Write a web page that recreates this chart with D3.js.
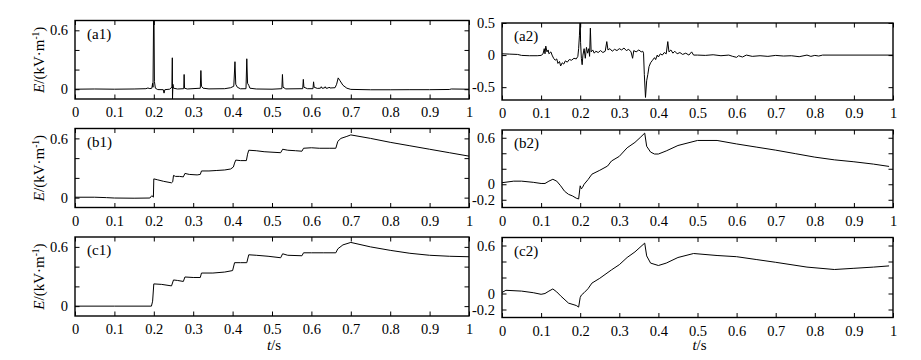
<!DOCTYPE html>
<html>
<head>
<meta charset="utf-8">
<script src="https://cdn.jsdelivr.net/npm/d3@7/dist/d3.min.js"></script>
<style>
  html, body { margin: 0; padding: 0; background: #fff; }
  svg { display: block; }
</style>
</head>
<body>
<svg id="chart" width="921" height="360"></svg>
<script>
// ---------- data (t in s, E in kV/m) ----------
const xTicks = [0, 0.1, 0.2, 0.3, 0.4, 0.5, 0.6, 0.7, 0.8, 0.9, 1];
const xTickLabels = ["0", "0.1", "0.2", "0.3", "0.4", "0.5", "0.6", "0.7", "0.8", "0.9", "1"];
const panelLabels = ["(a1)", "(a2)", "(b1)", "(b2)", "(c1)", "(c2)"];
const yTicksLeft = [0, 0.2, 0.4, 0.6];
const yLabelsLeft = [0, 0.6];
const yTicksA2 = [-0.5, 0, 0.5];
const yLabelsA2 = [-0.5, 0, 0.5];
const yTicksRight = [-0.2, 0, 0.2, 0.4, 0.6];
const yLabelsRight = [-0.2, 0, 0.6];
const yDomainLeft = [-0.1, 0.7];
const yDomainA2 = [-0.7, 0.5];
const yDomainRight = [-0.3, 0.7];

const a1 = [[0,0],[0.05,0.002],[0.1,0],[0.15,0.002],[0.18,0.005],[0.185,0.012],[0.19,0.006],[0.195,0.01],[0.197,0.06],[0.198,0.02],[0.1995,0.75],[0.2005,0.75],[0.2015,0.08],[0.204,0.01],[0.21,-0.004],[0.224,-0.005],[0.226,-0.04],[0.228,-0.005],[0.24,0],[0.246,0.02],[0.247,0.32],[0.2475,-0.1],[0.2485,0.05],[0.25,0.01],[0.26,0.002],[0.276,0.005],[0.277,0.15],[0.278,0.01],[0.285,0.002],[0.318,0.01],[0.3195,0.19],[0.321,0.03],[0.325,0.01],[0.34,0.003],[0.38,0.005],[0.395,0.015],[0.403,0.03],[0.406,0.28],[0.408,0.05],[0.412,0.02],[0.42,0.004],[0.434,0.005],[0.436,0.31],[0.438,0.06],[0.441,0.04],[0.444,0.01],[0.46,0.002],[0.5,0.0],[0.525,0.005],[0.5265,0.15],[0.528,0.02],[0.535,0.003],[0.578,0.005],[0.5795,0.1],[0.581,0.02],[0.59,0.005],[0.604,0.005],[0.6055,0.075],[0.607,0.02],[0.615,0.008],[0.623,0.01],[0.625,0.025],[0.627,0.01],[0.633,0.012],[0.635,0.025],[0.637,0.01],[0.643,0.012],[0.645,0.022],[0.647,0.012],[0.66,0.015],[0.664,0.05],[0.668,0.115],[0.672,0.09],[0.68,0.04],[0.69,0.01],[0.7,-0.002],[0.75,-0.006],[0.8,-0.006],[0.85,-0.005],[0.9,-0.005],[0.95,-0.003],[0.955,0.002],[1,0]];

const a2 = [[0,0.02],[0.02,0.015],[0.04,0.01],[0.05,-0.005],[0.07,-0.01],[0.09,-0.01],[0.1,-0.005],[0.105,0.02],[0.108,0.1],[0.11,0.02],[0.112,0.14],[0.115,0.05],[0.118,0.08],[0.12,0.02],[0.125,0.05],[0.128,0.0],[0.132,-0.05],[0.136,-0.08],[0.14,-0.06],[0.143,-0.13],[0.147,-0.1],[0.15,-0.17],[0.154,-0.12],[0.158,-0.14],[0.162,-0.09],[0.167,-0.11],[0.172,-0.07],[0.178,-0.08],[0.184,-0.05],[0.19,-0.06],[0.194,-0.02],[0.196,0.1],[0.198,0.3],[0.2,0.6],[0.201,0.2],[0.203,-0.05],[0.205,-0.15],[0.207,0.0],[0.21,0.1],[0.213,-0.05],[0.216,0.12],[0.219,0.03],[0.222,0.1],[0.224,-0.02],[0.226,0.42],[0.228,0.05],[0.232,0.08],[0.236,0.03],[0.24,0.06],[0.246,0.04],[0.252,0.07],[0.258,0.04],[0.264,0.06],[0.268,0.21],[0.271,0.08],[0.276,0.1],[0.282,0.06],[0.288,0.09],[0.294,0.07],[0.3,0.1],[0.306,0.08],[0.312,0.11],[0.318,0.07],[0.324,0.09],[0.33,0.05],[0.334,-0.05],[0.337,0.07],[0.343,0.05],[0.35,0.08],[0.356,0.05],[0.36,0.06],[0.362,0.03],[0.364,-0.3],[0.367,-0.66],[0.37,-0.4],[0.373,-0.3],[0.376,-0.18],[0.38,-0.12],[0.385,-0.08],[0.39,-0.04],[0.393,-0.07],[0.397,0.0],[0.4,-0.03],[0.405,0.02],[0.41,0.0],[0.415,0.04],[0.42,0.02],[0.424,0.21],[0.427,0.05],[0.432,0.08],[0.437,0.03],[0.442,0.06],[0.448,0.02],[0.455,0.04],[0.462,0.01],[0.47,0.03],[0.478,0.0],[0.485,0.05],[0.49,0.0],[0.5,0.0],[0.52,-0.005],[0.54,0.005],[0.56,-0.01],[0.58,0.0],[0.59,-0.02],[0.6,-0.035],[0.605,-0.01],[0.615,-0.03],[0.625,0.0],[0.64,-0.02],[0.66,-0.01],[0.68,-0.02],[0.7,-0.005],[0.72,-0.015],[0.74,-0.01],[0.76,-0.025],[0.78,0.0],[0.79,-0.02],[0.8,-0.005],[0.81,-0.015],[0.82,0],[1,0]];

const b1 = [[0,0.004],[0.05,0.004],[0.08,0.0],[0.1,-0.004],[0.15,-0.006],[0.19,-0.004],[0.195,0.02],[0.199,0.005],[0.2,0.19],[0.21,0.18],[0.225,0.165],[0.245,0.15],[0.248,0.16],[0.25,0.225],[0.255,0.215],[0.265,0.215],[0.275,0.21],[0.279,0.245],[0.29,0.235],[0.31,0.23],[0.318,0.235],[0.321,0.27],[0.34,0.27],[0.36,0.275],[0.38,0.28],[0.395,0.29],[0.402,0.31],[0.405,0.35],[0.408,0.38],[0.42,0.375],[0.435,0.375],[0.438,0.44],[0.441,0.48],[0.46,0.475],[0.48,0.465],[0.5,0.46],[0.522,0.455],[0.527,0.49],[0.54,0.48],[0.56,0.475],[0.576,0.47],[0.58,0.5],[0.6,0.505],[0.62,0.5],[0.645,0.5],[0.662,0.5],[0.667,0.57],[0.675,0.6],[0.69,0.62],[0.7,0.635],[0.75,0.6],[0.8,0.56],[0.85,0.525],[0.9,0.49],[0.95,0.455],[1,0.42]];

const b2 = [[0,0.02],[0.03,0.04],[0.05,0.04],[0.08,0.025],[0.1,0.01],[0.11,0.01],[0.12,0.04],[0.13,0.064],[0.14,0.04],[0.15,-0.02],[0.16,-0.09],[0.17,-0.13],[0.18,-0.15],[0.19,-0.18],[0.196,-0.19],[0.2,-0.02],[0.203,-0.06],[0.206,-0.04],[0.21,0.0],[0.22,0.06],[0.23,0.13],[0.25,0.18],[0.27,0.235],[0.28,0.3],[0.3,0.36],[0.32,0.47],[0.34,0.54],[0.355,0.61],[0.365,0.66],[0.37,0.49],[0.38,0.415],[0.39,0.39],[0.4,0.39],[0.42,0.43],[0.45,0.5],[0.5,0.565],[0.55,0.565],[0.6,0.52],[0.65,0.48],[0.7,0.44],[0.75,0.395],[0.8,0.35],[0.85,0.315],[0.9,0.29],[0.95,0.26],[0.99,0.23]];

const c1 = [[0,0],[0.1,0],[0.194,0],[0.197,0.05],[0.2,0.225],[0.22,0.22],[0.245,0.205],[0.25,0.265],[0.26,0.26],[0.275,0.25],[0.279,0.295],[0.3,0.29],[0.318,0.29],[0.321,0.335],[0.35,0.335],[0.38,0.345],[0.4,0.36],[0.405,0.44],[0.42,0.44],[0.436,0.44],[0.441,0.52],[0.46,0.515],[0.49,0.505],[0.522,0.49],[0.527,0.53],[0.54,0.515],[0.576,0.51],[0.58,0.54],[0.6,0.54],[0.63,0.54],[0.662,0.54],[0.667,0.58],[0.68,0.62],[0.7,0.645],[0.75,0.6],[0.8,0.565],[0.85,0.535],[0.9,0.515],[0.95,0.505],[1,0.5]];

const c2 = [[0,0.013],[0.01,0.04],[0.05,0.03],[0.08,0.01],[0.1,-0.01],[0.11,0.0],[0.12,0.03],[0.13,0.057],[0.14,0.02],[0.15,-0.03],[0.17,-0.12],[0.19,-0.15],[0.196,-0.17],[0.2,-0.05],[0.203,-0.02],[0.21,0.01],[0.22,0.06],[0.23,0.13],[0.25,0.19],[0.28,0.295],[0.3,0.36],[0.32,0.45],[0.34,0.52],[0.365,0.63],[0.37,0.47],[0.38,0.38],[0.4,0.35],[0.42,0.38],[0.45,0.45],[0.49,0.5],[0.55,0.475],[0.6,0.46],[0.65,0.425],[0.7,0.39],[0.78,0.33],[0.85,0.3],[0.9,0.315],[0.95,0.33],[0.99,0.345]];

const FONT = "'Liberation Serif', 'Times New Roman', serif";

// ---------- layout ----------
const panels = [
  { data: a1, label: panelLabels[0], x0: 75,  x1: 469, y0: 20.5, y1: 99,    dom: yDomainLeft,  ticks: yTicksLeft,  labels: yLabelsLeft,  ylab: true },
  { data: a2, label: panelLabels[1], x0: 502, x1: 893, y0: 23,   y1: 100,   dom: yDomainA2,    ticks: yTicksA2,    labels: yLabelsA2,    ylab: false },
  { data: b1, label: panelLabels[2], x0: 75,  x1: 469, y0: 128.5,y1: 207.5, dom: yDomainLeft,  ticks: yTicksLeft,  labels: yLabelsLeft,  ylab: true },
  { data: b2, label: panelLabels[3], x0: 502, x1: 893, y0: 130,  y1: 207.5, dom: yDomainRight, ticks: yTicksRight, labels: yLabelsRight, ylab: false },
  { data: c1, label: panelLabels[4], x0: 75,  x1: 469, y0: 237,  y1: 316,   dom: yDomainLeft,  ticks: yTicksLeft,  labels: yLabelsLeft,  ylab: true, xlab: true },
  { data: c2, label: panelLabels[5], x0: 502, x1: 893, y0: 237.5,y1: 317.5, dom: yDomainRight, ticks: yTicksRight, labels: yLabelsRight, ylab: false, xlab: true }
];

const svg = d3.select("#chart").style("font-family", FONT);
const TL = 4.5;
const fmt = v => (v === 0 ? "0" : String(v));

panels.forEach((p, i) => {
  const x = d3.scaleLinear().domain([0, 1]).range([p.x0, p.x1]);
  const y = d3.scaleLinear().domain(p.dom).range([p.y1, p.y0]);
  const g = svg.append("g");

  const clipId = "clip" + i;
  svg.append("clipPath").attr("id", clipId).append("rect")
    .attr("x", p.x0).attr("y", p.y0).attr("width", p.x1 - p.x0).attr("height", p.y1 - p.y0);

  const xb = d3.axisBottom(x).tickValues(xTicks).tickSize(-TL).tickPadding(8)
    .tickFormat((d, k) => xTickLabels[k]);
  const gxb = g.append("g").attr("transform", `translate(0,${p.y1})`).call(xb);
  const xt = d3.axisTop(x).tickValues(xTicks).tickSize(-TL).tickFormat("");
  const gxt = g.append("g").attr("transform", `translate(0,${p.y0})`).call(xt);
  const yl = d3.axisLeft(y).tickValues(p.ticks).tickSize(-TL).tickPadding(7)
    .tickFormat(d => (p.labels.includes(d) ? fmt(d) : ""));
  const gyl = g.append("g").attr("transform", `translate(${p.x0},0)`).call(yl);
  const yr = d3.axisRight(y).tickValues(p.ticks).tickSize(-TL).tickFormat("");
  const gyr = g.append("g").attr("transform", `translate(${p.x1},0)`).call(yr);

  [gxb, gxt, gyl, gyr].forEach(a => {
    a.attr("font-family", null).style("font-family", FONT).attr("font-size", 14.5);
    a.select(".domain").remove();
    a.selectAll(".tick line").attr("stroke", "#000").attr("stroke-width", 1);
    a.selectAll(".tick text").attr("fill", "#000").style("font-family", FONT);
  });

  const line = d3.line().x(d => x(d[0])).y(d => y(d[1]));
  g.append("path").datum(p.data)
    .attr("clip-path", `url(#${clipId})`)
    .attr("fill", "none").attr("stroke", "#000").attr("stroke-width", 1)
    .attr("stroke-linejoin", "round")
    .attr("d", line);

  g.append("rect").attr("x", p.x0).attr("y", p.y0)
    .attr("width", p.x1 - p.x0).attr("height", p.y1 - p.y0)
    .attr("fill", "none").attr("stroke", "#000").attr("stroke-width", 1.4);

  g.append("text").attr("x", p.x0 + 12).attr("y", p.y0 + 18)
    .style("font-family", FONT).attr("font-size", 15).text(p.label);

  if (p.ylab) {
    const cy = (p.y0 + p.y1) / 2;
    const t = g.append("text")
      .attr("transform", `translate(44,${cy}) rotate(-90)`)
      .style("font-family", FONT)
      .attr("text-anchor", "middle").attr("font-size", 15);
    t.append("tspan").attr("font-style", "italic").text("E");
    t.append("tspan").text("/(kV·m");
    t.append("tspan").attr("font-size", 9.5).attr("dy", -5).text("-1");
    t.append("tspan").attr("dy", 5).text(")");
  }

  if (p.xlab) {
    const t = g.append("text").attr("x", (p.x0 + p.x1) / 2 + 2).attr("y", 350)
      .style("font-family", FONT)
      .attr("text-anchor", "middle").attr("font-size", 15);
    t.append("tspan").attr("font-style", "italic").text("t");
    t.append("tspan").text("/s");
  }
});
</script>
</body>
</html>
